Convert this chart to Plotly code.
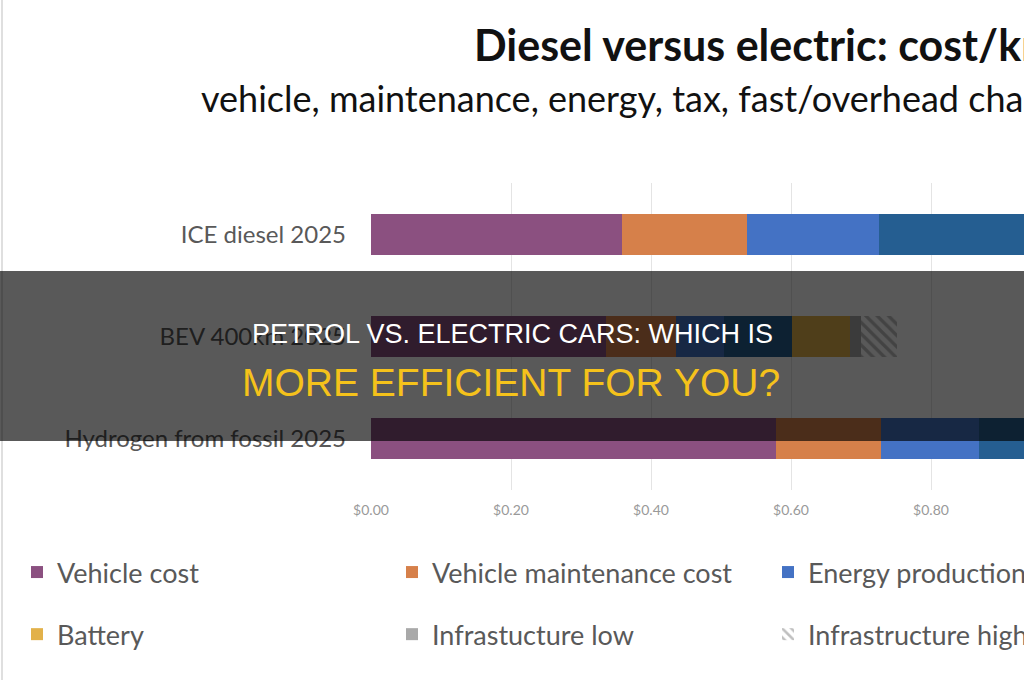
import plotly.graph_objects as go

# ---- data ----
categories = ["ICE diesel 2025", "BEV 400km 2025", "Hydrogen from fossil 2025"]
vehicle_cost = [0.359, 0.336, 0.578]
maintenance_cost = [0.178, 0.100, 0.150]
energy_production = [0.189, 0.068, 0.141]
energy_tax = [0.300, 0.097, 0.250]          # ICE / hydrogen run past the visible edge
battery = [None, 0.083, None]
infra_low = [None, 0.016, None]
infra_high = [None, 0.051, None]
x_ticks = [0.0, 0.2, 0.4, 0.6, 0.8, 1.0]

W, H = 1024, 680
L, R, T, B = 371, 1024, 183, 490   # plot area in pixels


def px(x):
    return (x - L) / (R - L)


def py(y):
    return (B - y) / (B - T)


fig = go.Figure()

series = [
    ("Vehicle cost", vehicle_cost, "#8b5080", None, "legend", True),
    ("Vehicle maintenance cost", maintenance_cost, "#d6804a", None, "legend2", True),
    ("Energy production", energy_production, "#4472c4", None, "legend3", True),
    ("Energy tax", energy_tax, "#255e91", None, "legend3", False),
    ("Battery", battery, "#e2b14a", None, "legend", True),
    ("Infrastucture low", infra_low, "#a9a9a9", None, "legend2", True),
    ("Infrastructure high", infra_high, "#ffffff", "\\", "legend3", True),
]

for name, vals, color, pattern, leg, show in series:
    marker = dict(color=color, line=dict(width=0))
    if pattern:
        marker["pattern"] = dict(shape=pattern, fgcolor="#7f7f7f", bgcolor="#ffffff",
                                 size=8, solidity=0.4)
    fig.add_trace(go.Bar(
        y=categories, x=vals, name=name, orientation="h", marker=marker,
        legend=leg, legendgroup=name, showlegend=show,
    ))

legend_common = dict(
    orientation="v", xref="container", yref="container", xanchor="left", yanchor="top",
    font=dict(family="Lato, Open Sans, sans-serif", size=27, color="#595959"),
    bgcolor="rgba(0,0,0,0)", tracegroupgap=24, traceorder="grouped",
)

fig.update_layout(
    width=W, height=H,
    margin=dict(l=L, r=W - R, t=T, b=H - B, pad=0, autoexpand=False),
    paper_bgcolor="white", plot_bgcolor="white",
    barmode="stack", bargap=0.6,
    showlegend=True,
    legend=dict(x=17 / W, y=1 - 548 / H, **legend_common),
    legend2=dict(x=392 / W, y=1 - 548 / H, **legend_common),
    legend3=dict(x=768 / W, y=1 - 548 / H, **legend_common),
    xaxis=dict(
        range=[0, (R - L) / 700.0], tickvals=x_ticks, tickformat="$.2f",
        showgrid=True, gridcolor="#e4e4e4", gridwidth=1, zeroline=False,
        showline=False, ticks="", ticklabelstandoff=10, automargin=False,
        tickfont=dict(family="Lato, Open Sans, sans-serif", size=14, color="#999999"),
        fixedrange=True,
    ),
    yaxis=dict(
        autorange="reversed", showgrid=False, zeroline=False, showline=False,
        ticks="", ticklabelstandoff=24, automargin=False,
        tickfont=dict(family="Lato, Open Sans, sans-serif", size=24, color="#595959"),
        fixedrange=True,
    ),
)

# left frame line of the original chart
fig.add_shape(type="line", xref="paper", yref="paper",
              x0=px(2), x1=px(2), y0=py(0), y1=py(H),
              line=dict(color="#d4d4d4", width=1.5), layer="below")

# dark overlay band
fig.add_shape(type="rect", xref="paper", yref="paper",
              x0=px(-5), x1=px(W + 5), y0=py(441), y1=py(271),
              fillcolor="rgba(0,0,0,0.65)", line=dict(width=0), layer="above")

annotations = [
    dict(text="<b>Diesel versus electric: cost/km</b>", x=px(472), y=py(44),
         font=dict(family="Lato, Open Sans, sans-serif", size=43, color="#111111")),
    dict(text="vehicle, maintenance, energy, tax, fast/overhead charging",
         x=px(199), y=py(98),
         font=dict(family="Lato, Open Sans, sans-serif", size=36, color="#111111")),
]
for a in annotations:
    fig.add_annotation(xref="paper", yref="paper", xanchor="left", yanchor="middle",
                       showarrow=False, **a)

fig.add_annotation(text="PETROL VS. ELECTRIC CARS: WHICH IS", x=px(512), y=py(334),
                   xref="paper", yref="paper", xanchor="center", yanchor="middle",
                   showarrow=False,
                   font=dict(family="Liberation Sans, Arial, sans-serif", size=27, color="#ffffff"))
fig.add_annotation(text="MORE EFFICIENT FOR YOU?", x=px(511), y=py(382),
                   xref="paper", yref="paper", xanchor="center", yanchor="middle",
                   showarrow=False,
                   font=dict(family="Liberation Sans, Arial, sans-serif", size=39, color="#f5c21b"))

fig.write_html("out.html")
